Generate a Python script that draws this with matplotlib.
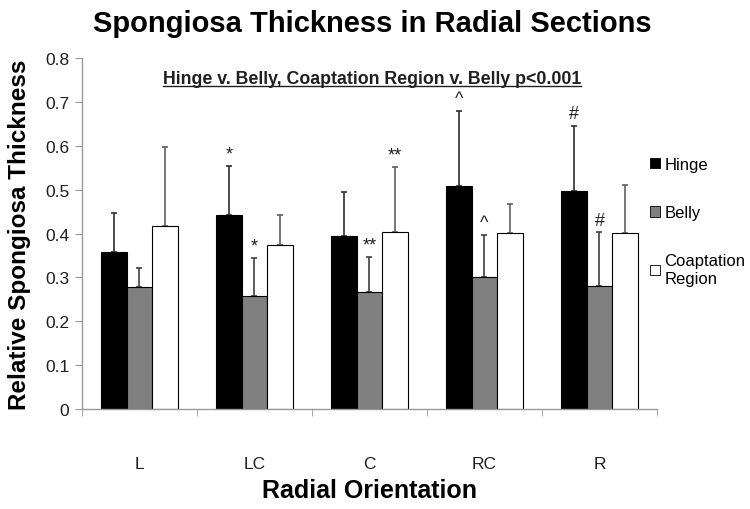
import matplotlib
matplotlib.use("Agg")
import matplotlib.pyplot as plt
import numpy as np
from matplotlib.lines import Line2D

plt.rcParams['font.family'] = ['Liberation Sans', 'DejaVu Sans']

categories = ["L", "LC", "C", "RC", "R"]
series_names = ["Hinge", "Belly", "Coaptation\nRegion"]
hinge = [0.357, 0.443, 0.394, 0.508, 0.498]
hinge_err = [0.089, 0.112, 0.101, 0.172, 0.148]
belly = [0.279, 0.258, 0.267, 0.301, 0.280]
belly_err = [0.043, 0.087, 0.079, 0.096, 0.123]
coap = [0.418, 0.373, 0.403, 0.401, 0.402]
coap_err = [0.180, 0.069, 0.149, 0.067, 0.109]
markers = {  # (series index, category index): symbol
    (0, 1): "*", (1, 1): "*",
    (1, 2): "**", (2, 2): "**",
    (0, 3): "^", (1, 3): "^",
    (0, 4): "#", (1, 4): "#",
}
yticks = [0, 0.1, 0.2, 0.3, 0.4, 0.5, 0.6, 0.7, 0.8]

fig = plt.figure(figsize=(7.5, 5.1), dpi=100)
ax = fig.add_axes([0.109, 0.196, 0.767, 0.688])

x = np.arange(len(categories))
w = 0.222
colors = ["black", "#808080", "white"]
vals = [hinge, belly, coap]
errs = [hinge_err, belly_err, coap_err]
ecolors = ["#303030", "#404040", "#606060"]
for i in range(3):
    pos = x + (i - 1) * w
    ax.bar(pos, vals[i], w, color=colors[i], edgecolor="black", linewidth=0.8,
           label=series_names[i], zorder=2)
    ax.errorbar(pos, vals[i], yerr=[np.zeros(5), errs[i]], fmt="none",
                ecolor=ecolors[i], elinewidth=1.2, capsize=2.5, capthick=1.2, zorder=1)

for (si, ci), sym in markers.items():
    pos = x[ci] + (si - 1) * w
    top = vals[si][ci] + errs[si][ci]
    ax.text(pos, top + 0.008, sym, ha="center", va="bottom", fontsize=13, color="#202020")

ax.set_xlim(-0.5, 4.5)
ax.set_ylim(0, 0.8)
ax.set_yticks(yticks)
ax.set_yticklabels([f"{t:g}" for t in yticks], fontsize=12.5, color="#202020")
ax.set_xticks(x)
ax.set_xticklabels(categories, fontsize=12.5, color="#202020")
ax.tick_params(axis="x", which="major", length=0, pad=34)
ax.set_xticks(np.arange(-0.5, 5, 1), minor=True)
ax.tick_params(axis="x", which="minor", length=5, color="#999999")
ax.tick_params(axis="y", length=5, color="#999999", pad=4)
for s in ["top", "right"]:
    ax.spines[s].set_visible(False)
for s in ["left", "bottom"]:
    ax.spines[s].set_color("#999999")
    ax.spines[s].set_linewidth(1.0)

ax.set_ylabel("Relative Spongiosa Thickness", fontsize=17.5, fontweight="bold", labelpad=10)
ax.set_xlabel("Radial Orientation", fontsize=18, fontweight="bold", labelpad=5)
fig.text(0.497, 0.952, "Spongiosa Thickness in Radial Sections", ha="center", va="center",
         fontsize=21, fontweight="bold")

sub = ax.text(0.505, 0.942, "Hinge v. Belly, Coaptation Region v. Belly p<0.001",
              transform=ax.transAxes, ha="center", va="center", fontsize=12.8,
              fontweight="bold", color="#202020")
fig.canvas.draw()
bb = sub.get_window_extent().transformed(fig.transFigure.inverted())
fig.add_artist(Line2D([bb.x0, bb.x1], [bb.y0 + 0.002, bb.y0 + 0.002],
                      transform=fig.transFigure, color="#202020", linewidth=1.0))

leg = fig.legend(loc="upper left", bbox_to_anchor=(0.846, 0.72), frameon=False,
                 fontsize=12, handlelength=0.6, handleheight=0.6, handletextpad=0.3,
                 labelspacing=2.0)
for h in leg.legend_handles:
    h.set_linewidth(0.6)

fig.savefig("out.png", dpi=100, facecolor="white")
